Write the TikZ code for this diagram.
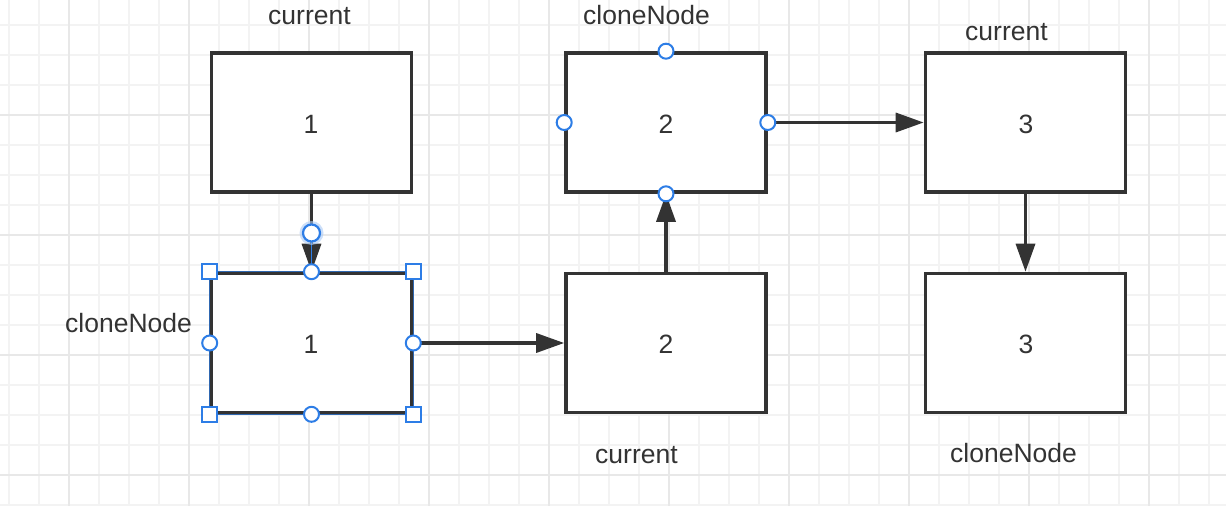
\documentclass[tikz,border=0pt]{standalone}
\usepackage{fontspec}
\setmainfont{Liberation Sans}
\usetikzlibrary{arrows.meta}
\definecolor{ink}{HTML}{333333}
\definecolor{gridminor}{HTML}{F3F3F3}
\definecolor{gridmajor}{HTML}{E8E8E8}
\definecolor{selblue}{RGB}{45,125,230}
\tikzset{
  box/.style={draw=ink, line width=3.6pt, fill=white, minimum width=200pt, minimum height=139pt, inner sep=0pt, font=\fontsize{26.5}{30}\selectfont, text=ink},
  lbl/.style={anchor=base west, inner sep=0pt, font=\fontsize{26.5}{30}\selectfont, text=ink},
  digit/.style={anchor=base, inner sep=0pt, font=\fontsize{26.5}{30}\selectfont, text=ink},
  conn/.style={draw=ink, line width=3.4pt, -{Triangle[length=28pt,width=19pt]}},
  handlec/.style={circle, draw=selblue, fill=white, line width=2pt, minimum size=15pt, inner sep=0pt},
  handles/.style={rectangle, draw=selblue, fill=white, line width=2pt, minimum size=14.5pt, inner sep=0pt},
}
\begin{document}
\begin{tikzpicture}[x=1pt,y=-1pt]
\useasboundingbox (0,0) rectangle (1226,506);
\fill[white] (0,0) rectangle (1226,506);
% grid
\foreach \x in {9,39,...,1209} \draw[gridminor, line width=1.5pt] (\x,0) -- (\x,506);
\foreach \y in {25,55,...,505} \draw[gridminor, line width=1.5pt] (0,\y) -- (1226,\y);
\foreach \x in {69,189,...,1149} \draw[gridmajor, line width=1.5pt] (\x,0) -- (\x,506);
\foreach \y in {115,235,355,475} \draw[gridmajor, line width=1.5pt] (0,\y) -- (1226,\y);
% boxes
\node[box] (a1) at (311.5,122.5) {};
\node[box] (b1) at (311.5,343) {};
\node[box] (a2) at (666,122.5) {};
\node[box] (b2) at (666,343) {};
\node[box] (a3) at (1025.5,122.5) {};
\node[box] (b3) at (1025.5,343) {};
% digits
\node[digit] (t1) at (311,133) {1};
\node[digit] (t1b) at (311,353) {1};
\node[digit] (t2) at (666,133) {2};
\node[digit] (t2b) at (666,353) {2};
\node[digit] (t3) at (1026,133) {3};
\node[digit] (t3b) at (1026,353) {3};
% selection outline of b1
\draw[selblue!70!ink, line width=1pt] (b1.north west) rectangle (b1.south east);
% labels
\node[lbl] (l1) at (268,24) {current};
\node[lbl] (l2) at (583,24) {cloneNode};
\node[lbl] (l3) at (965,40) {current};
\node[lbl] (l4) at (65,332) {cloneNode};
\node[lbl] (l5) at (595,463) {current};
\node[lbl] (l6) at (950,462) {cloneNode};
% connectors
\draw[conn] (a1.south) -- (b1.north);
\draw[conn] (b1.east) -- (b2.west);
\draw[conn] (b2.north) -- (a2.south);
\draw[conn] (a2.east) -- (a3.west);
\draw[conn] (a3.south) -- (b3.north);
% selected edge highlight
\coordinate (g) at (311.5,233);
\draw[selblue, line width=1.2pt] (g) -- (b1.north);
\fill[selblue!40, opacity=0.6] (g) circle (12pt);
\node[handlec, minimum size=17pt, line width=2.2pt] (gh) at (g) {};
% handles on a2
\node[handlec] at (a2.north) {};
\node[handlec] at (a2.south) {};
\node[handlec] at (a2.west) {};
\node[handlec] at (a2.east) {};
% handles on b1
\node[handlec] at (b1.north) {};
\node[handlec] at (b1.south) {};
\node[handlec] at (b1.west) {};
\node[handlec] at (b1.east) {};
\node[handles] at (b1.north west) {};
\node[handles] at (b1.north east) {};
\node[handles] at (b1.south west) {};
\node[handles] at (b1.south east) {};
\end{tikzpicture}
\end{document}
